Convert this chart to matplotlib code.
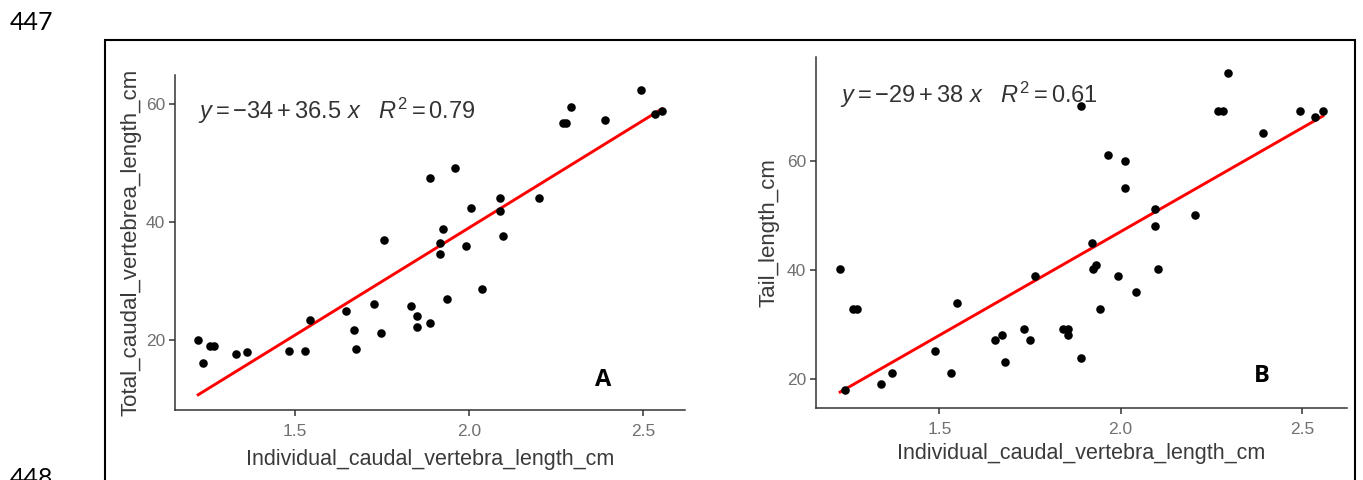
import matplotlib.pyplot as plt
import matplotlib.patches as patches
import numpy as np

plt.rcParams['font.family'] = ['Liberation Sans', 'DejaVu Sans']
plt.rcParams['mathtext.fontset'] = 'custom'
plt.rcParams['mathtext.rm'] = 'Liberation Sans'
plt.rcParams['mathtext.it'] = 'Liberation Sans:italic'

# panel A: total caudal vertebrae length
x_a = [1.223, 1.236, 1.257, 1.267, 1.333, 1.364, 1.485, 1.529, 1.544, 1.648,
       1.669, 1.676, 1.729, 1.747, 1.757, 1.835, 1.850, 1.850, 1.888, 1.888,
       1.916, 1.918, 1.926, 1.937, 1.961, 1.991, 2.007, 2.038, 2.090, 2.090,
       2.099, 2.202, 2.269, 2.280, 2.293, 2.391, 2.494, 2.533, 2.554]
y_a = [20.0, 16.1, 18.9, 18.9, 17.5, 17.9, 18.0, 18.1, 23.3, 24.8,
       21.7, 18.5, 26.1, 21.1, 37.0, 25.8, 24.0, 22.2, 22.8, 47.4,
       36.5, 34.5, 38.8, 27.0, 49.2, 36.0, 42.3, 28.6, 44.1, 41.8,
       37.7, 44.1, 56.8, 56.9, 59.6, 57.3, 62.4, 58.3, 58.8]
coef_a = (-34, 36.5)
r2_a = 0.79

# panel B: tail length
x_b = [1.226, 1.240, 1.262, 1.272, 1.338, 1.368, 1.489, 1.531, 1.549, 1.652,
       1.673, 1.682, 1.733, 1.750, 1.763, 1.841, 1.854, 1.854, 1.891, 1.891,
       1.921, 1.923, 1.932, 1.943, 1.964, 1.994, 2.012, 2.012, 2.042, 2.094,
       2.094, 2.102, 2.204, 2.270, 2.282, 2.295, 2.394, 2.496, 2.535, 2.558]
y_b = [40.1, 17.9, 32.9, 32.9, 19.0, 21.1, 25.1, 21.1, 34.0, 27.1,
       28.0, 23.1, 29.1, 27.1, 38.9, 29.2, 29.1, 28.0, 23.9, 70.0,
       45.0, 40.1, 40.9, 32.8, 61.0, 38.9, 59.9, 55.0, 36.0, 51.1,
       48.1, 40.1, 50.1, 69.1, 69.1, 76.1, 65.1, 69.1, 68.0, 69.1]
coef_b = (-29, 38)
r2_b = 0.61

x_title = "Individual_caudal_vertebra_length_cm"
y_titles = ["Total_caudal_vertebrea_length_cm", "Tail_length_cm"]
eq_texts = [r"$y = -34 + 36.5\ x\ \ \ R^2 = 0.79$",
            r"$y = -29 + 38\ x\ \ \ R^2 = 0.61$"]
panel_tags = ["A", "B"]

W, H = 1363, 480
fig = plt.figure(figsize=(W / 100, H / 100), dpi=100)


def add_axes_px(left, top, right, bottom):
    return fig.add_axes([left / W, 1 - bottom / H, (right - left) / W, (bottom - top) / H])


ax_a = add_axes_px(175, 75, 685, 410)
ax_b = add_axes_px(816, 57, 1347, 408)

ylabel_pads = [3, 5.5]
xlabel_pads = [7, 4.5]

panels = [(ax_a, x_a, y_a, coef_a), (ax_b, x_b, y_b, coef_b)]
for i, (ax, xs, ys, coef) in enumerate(panels):
    xs = np.array(xs)
    ys = np.array(ys)
    xl = np.array([xs.min(), xs.max()])
    yl = coef[0] + coef[1] * xl
    ax.scatter(xs, ys, s=38, color='black', zorder=3, linewidths=0)
    ax.plot(xl, yl, color='#ff0000', lw=2.1, zorder=2)

    # ggplot style 5% expansion
    xr = xs.max() - xs.min()
    ax.set_xlim(xs.min() - 0.05 * xr, xs.max() + 0.05 * xr)
    lo = min(ys.min(), yl.min())
    hi = max(ys.max(), yl.max())
    ax.set_ylim(lo - 0.05 * (hi - lo), hi + 0.05 * (hi - lo))

    ax.set_xticks([1.5, 2.0, 2.5])
    ax.set_yticks([20, 40, 60])
    for s in ['top', 'right']:
        ax.spines[s].set_visible(False)
    for s in ['left', 'bottom']:
        ax.spines[s].set_color('#333333')
        ax.spines[s].set_linewidth(1.1)
    ax.tick_params(colors='#333333', labelcolor='#707070', labelsize=12.5,
                   length=4, width=1.1)
    ax.tick_params(axis='x', pad=6)
    ax.tick_params(axis='y', pad=3)
    ax.set_xlabel(x_title, fontsize=15.5, color='#3a3a3a', labelpad=xlabel_pads[i])
    ax.set_ylabel(y_titles[i], fontsize=16, color='#3a3a3a', labelpad=ylabel_pads[i])
    ax.text(0.045, 0.87, eq_texts[i], transform=ax.transAxes, fontsize=17,
            color='#333333', va='baseline', ha='left')
    ax.text(0.84, 0.09, panel_tags[i], transform=ax.transAxes, fontsize=17,
            fontweight='bold', family=['Open Sans', 'DejaVu Sans'],
            color='black', va='center', ha='center')

# frame round the figure and the line numbers of the page
frame = patches.Rectangle((105 / W, -0.1), (1355 - 105) / W, 1.1 - 40 / H,
                          transform=fig.transFigure, fill=False,
                          edgecolor='black', lw=1.5)
fig.add_artist(frame)
fig.text(10 / W, 1 - 11 / H, "447", fontsize=18, family=['Lato', 'DejaVu Sans'],
         va='top', ha='left')
fig.text(10 / W, 1 - 467 / H, "448", fontsize=18, family=['Lato', 'DejaVu Sans'],
         va='top', ha='left')

fig.savefig('out.png', dpi=100)
